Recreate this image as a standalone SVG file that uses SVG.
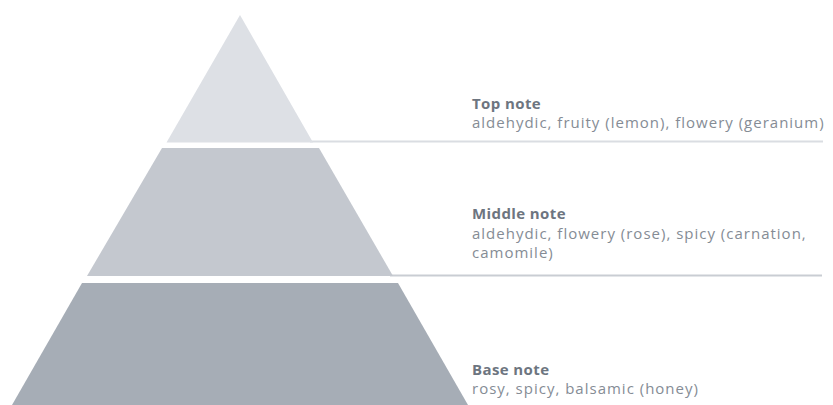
<svg xmlns="http://www.w3.org/2000/svg" width="833" height="405" viewBox="0 0 833 405">
<style>
.t{font-family:"Open Sans","Noto Sans","Liberation Sans",sans-serif;font-size:15px;fill:#858c95;letter-spacing:1px}
.h{font-weight:bold;fill:#6d7580;letter-spacing:0.4px}
</style>
<rect width="833" height="405" fill="#ffffff"/>
<g id="connectors">
<line x1="310" y1="141.5" x2="823" y2="141.5" stroke="#dadde2" stroke-width="2"/>
<line x1="390" y1="275.5" x2="822" y2="275.5" stroke="#c9cdd3" stroke-width="2"/>
</g>
<g id="top">
<polygon points="240,15 313,142.5 166.5,142.5" fill="#dde0e5"/>
<text class="t h" x="472" y="109">Top note</text>
<text class="t" x="472" y="128">aldehydic, fruity (lemon), flowery (geranium)</text>
</g>
<g id="middle">
<polygon points="162,148 319,148 393,276 87,276" fill="#c4c8cf"/>
<text class="t h" x="472" y="219">Middle note</text>
<text class="t" x="472" y="239">aldehydic, flowery (rose), spicy (carnation,</text>
<text class="t" x="472" y="258">camomile)</text>
</g>
<g id="base">
<polygon points="82,283 398,283 468,405 12,405" fill="#a6adb6"/>
<text class="t h" x="472" y="375">Base note</text>
<text class="t" x="472" y="394">rosy, spicy, balsamic (honey)</text>
</g>
</svg>
